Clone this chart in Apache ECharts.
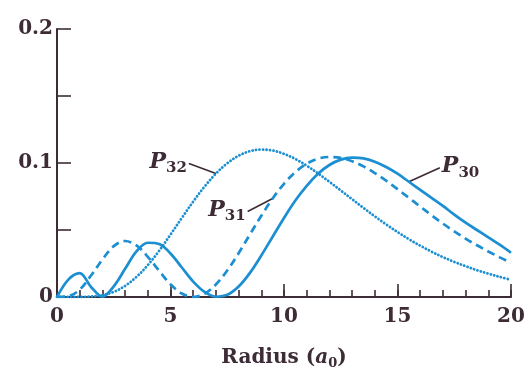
<!DOCTYPE html>
<html>
<head>
<meta charset="utf-8">
<script src="https://cdn.jsdelivr.net/npm/echarts@6/dist/echarts.min.js"></script>
<style>
  html, body { margin: 0; padding: 0; background: #ffffff; }
  #chart { width: 532px; height: 378px; }
</style>
</head>
<body>
<div id="chart"></div>
<script>
// Radial probability densities of the n = 3 hydrogen states, sampled every 0.5 a0
const radius = [0, 0.5, 1, 1.5, 2, 2.5, 3, 3.5, 4, 4.5, 5, 5.5, 6, 6.5, 7, 7.5, 8, 8.5, 9, 9.5, 10,
  10.5, 11, 11.5, 12, 12.5, 13, 13.5, 14, 14.5, 15, 15.5, 16, 16.5, 17, 17.5, 18, 18.5, 19, 19.5, 20];

const p30 = [0, 0.013, 0.0178, 0.0075, 0.0003, 0.008, 0.021, 0.034, 0.0405, 0.0395, 0.0325,
  0.022, 0.0115, 0.0038, 0.0002, 0.0016, 0.0078, 0.018, 0.031, 0.045, 0.059,
  0.072, 0.083, 0.092, 0.0985, 0.1025, 0.104, 0.1035, 0.101, 0.097, 0.092,
  0.086, 0.080, 0.074, 0.068, 0.0615, 0.0555, 0.050, 0.0445, 0.039, 0.033];

const p31 = [0, 0.0006, 0.0055, 0.016, 0.028, 0.038, 0.0418, 0.0385, 0.030, 0.0195, 0.0095,
  0.0026, 0.0, 0.0024, 0.0093, 0.0198, 0.0327, 0.0467, 0.0606, 0.0735, 0.0845,
  0.0932, 0.0995, 0.1032, 0.1045, 0.1038, 0.1013, 0.0975, 0.0925, 0.0868, 0.0805,
  0.074, 0.0675, 0.061, 0.0548, 0.049, 0.0436, 0.0386, 0.034, 0.0296, 0.0255];

const p32 = [0, 0, 0, 0.0004, 0.0014, 0.0038, 0.0083, 0.0150, 0.0238, 0.0345, 0.0466,
  0.059, 0.0712, 0.0824, 0.0921, 0.0998, 0.1054, 0.1088, 0.1100, 0.1093, 0.1068,
  0.1030, 0.0980, 0.0922, 0.0860, 0.0795, 0.0730, 0.0665, 0.0602, 0.0542, 0.0485,
  0.0432, 0.0383, 0.0338, 0.0298, 0.0262, 0.0230, 0.0200, 0.0174, 0.0150, 0.0128];

const yTickLabels = { 0: '0', 0.1: '0.1', 0.2: '0.2' };

// Curve labels: subscript text and the sample index each leader line points at
const curveLabels = [
  { sub: '32', data: p32, index: 14, dx: -27, dy: -10, side: 'left' },
  { sub: '31', data: p31, index: 19, dx: -25, dy: 13, side: 'left' },
  { sub: '30', data: p30, index: 31, dx: 31, dy: -14, side: 'right' }
];

const ink = '#3d2b35';
const blue = '#1b8fd2';
const serif = '"DejaVu Serif", "Liberation Serif", serif';

const pairs = (ys) => radius.map((r, i) => [r, ys[i]]);

const chart = echarts.init(document.getElementById('chart'), null, { renderer: 'canvas' });

chart.setOption({
  animation: false,
  backgroundColor: '#ffffff',
  grid: { left: 57, right: 21, top: 29, bottom: 81, containLabel: false },
  xAxis: [
    {
      // labelled axis with the long ticks every 5 a0
      type: 'value', min: 0, max: 20, interval: 5, position: 'bottom',
      axisLine: { lineStyle: { color: ink, width: 2 } },
      axisTick: { inside: true, length: 13, lineStyle: { color: ink, width: 1.6 } },
      splitLine: { show: false },
      axisLabel: { color: ink, fontFamily: serif, fontWeight: 'bold', fontSize: 20, margin: 10 },
      name: '{t|Radius (}{i|a}{s|0}{t|)}',
      nameLocation: 'middle', nameGap: 49,
      nameTextStyle: {
        rich: {
          t: { fontFamily: serif, fontWeight: 'bold', fontSize: 20, color: ink },
          i: { fontFamily: serif, fontWeight: 'bold', fontStyle: 'italic', fontSize: 20, color: ink },
          s: { fontFamily: serif, fontWeight: 'bold', fontSize: 13, color: ink, verticalAlign: 'bottom', padding: [11, 0, 0, 0] }
        }
      }
    },
    {
      // short ticks every 1 a0
      type: 'value', min: 0, max: 20, interval: 1, position: 'bottom',
      axisLine: { show: false },
      axisTick: { inside: true, length: 7, lineStyle: { color: ink, width: 1.6 } },
      splitLine: { show: false },
      axisLabel: { show: false }
    }
  ],
  yAxis: {
    type: 'value', min: 0, max: 0.2, interval: 0.05,
    axisLine: { show: true, lineStyle: { color: ink, width: 2 } },
    axisTick: { show: true, inside: true, length: 14, lineStyle: { color: ink, width: 1.6 } },
    splitLine: { show: false },
    axisLabel: {
      color: ink, fontFamily: serif, fontWeight: 'bold', fontSize: 20, margin: 4,
      formatter: (v) => {
        const key = Math.round(v * 100) / 100;
        return yTickLabels[key] !== undefined ? yTickLabels[key] : '';
      }
    }
  },
  series: [
    {
      name: 'P30', type: 'line', data: pairs(p30), showSymbol: false, smooth: 0.35,
      lineStyle: { color: blue, width: 2.7, type: 'solid' }
    },
    {
      name: 'P31', type: 'line', data: pairs(p31), showSymbol: false, smooth: 0.35,
      lineStyle: { color: blue, width: 2.7, type: [8, 5] }
    },
    {
      name: 'P32', type: 'line', data: pairs(p32), showSymbol: false, smooth: 0.35,
      lineStyle: { color: blue, width: 2.8, type: [0.1, 3.4], cap: 'round' }
    }
  ]
});

// Leader lines and italic P labels, anchored to the sampled curve points
function drawCurveLabels() {
  const elements = [];
  curveLabels.forEach((lab) => {
    const pt = chart.convertToPixel({ gridIndex: 0 }, [radius[lab.index], lab.data[lab.index]]);
    const ex = pt[0] + lab.dx;
    const ey = pt[1] + lab.dy;
    elements.push({
      type: 'line',
      shape: { x1: pt[0], y1: pt[1], x2: ex, y2: ey },
      style: { stroke: ink, lineWidth: 1.6 }
    });
    const rightSide = lab.side === 'right';
    elements.push({
      type: 'text',
      x: rightSide ? ex + 2 : ex - 2,
      y: ey - 1,
      style: {
        text: '{p|P}{s|' + lab.sub + '}',
        align: rightSide ? 'left' : 'right',
        verticalAlign: 'middle',
        rich: {
          p: { fontFamily: serif, fontWeight: 'bold', fontStyle: 'italic', fontSize: 22, fill: ink },
          s: { fontFamily: serif, fontWeight: 'bold', fontSize: 15, fill: ink, padding: [12, 0, 0, 0] }
        }
      }
    });
  });
  chart.setOption({ graphic: elements });
}
drawCurveLabels();
</script>
</body>
</html>
